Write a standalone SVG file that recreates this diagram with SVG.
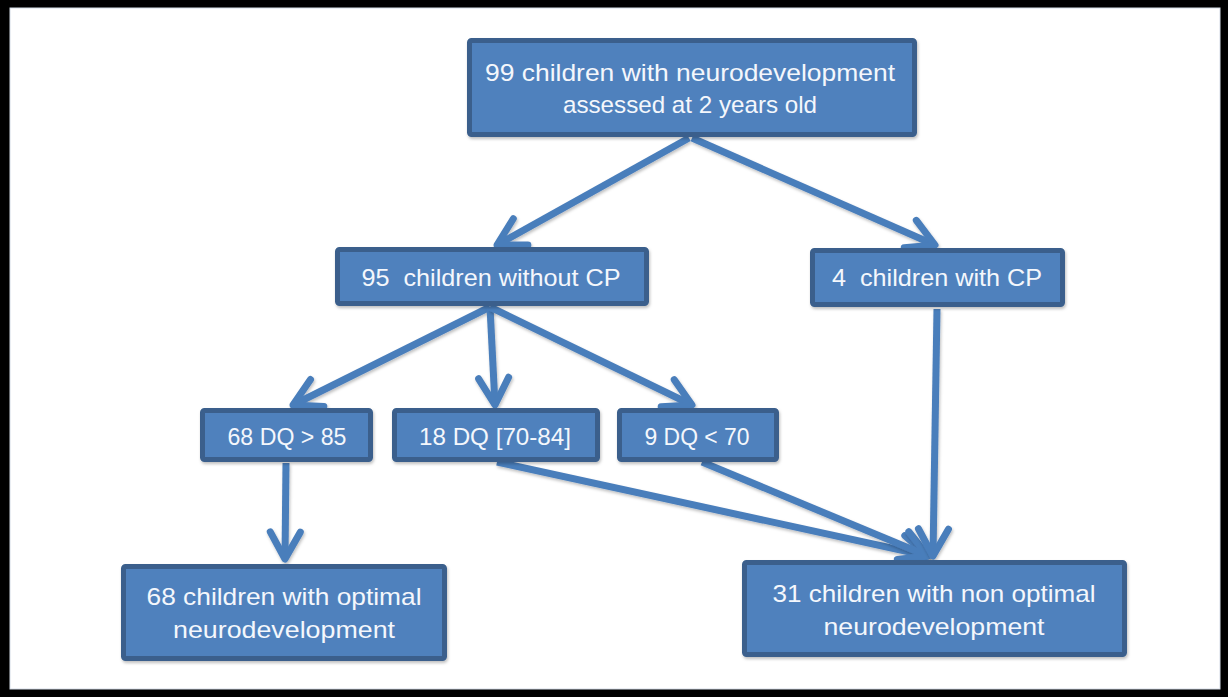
<svg xmlns="http://www.w3.org/2000/svg" width="1228" height="697" viewBox="0 0 1228 697">
<style>
.box{fill:#4F81BD;stroke:#3A5F8C;stroke-width:5;filter:url(#sh)}
.t{font-family:"Liberation Sans",Arial,sans-serif;font-size:24px;fill:#F4F7FC;text-anchor:middle;white-space:pre}
.c{stroke:#4A7EBB;stroke-width:7;fill:none;marker-end:url(#ah);filter:url(#sh)}
</style>
<defs>
<filter id="sh" filterUnits="userSpaceOnUse" x="0" y="0" width="1228" height="697">
<feDropShadow dx="1" dy="2" stdDeviation="1.5" flood-color="#000" flood-opacity="0.25"/>
</filter>
<marker id="ah" markerUnits="userSpaceOnUse" markerWidth="60" markerHeight="60" viewBox="-30 -30 60 60" refX="0" refY="0" orient="auto" overflow="visible">
<path d="M -27,-15 L 0,0 L -27,15" fill="none" stroke="#4A7EBB" stroke-width="7" stroke-linecap="round" stroke-linejoin="round"/>
</marker>
</defs>
<rect x="0" y="0" width="1228" height="697" fill="#000"/>
<rect x="10" y="8" width="1210" height="681" fill="#fff" stroke="#d4dbe6" stroke-width="1"/>
<g id="connectors">
<line class="c" x1="689" y1="138" x2="497" y2="245"/>
<line class="c" x1="692" y1="138" x2="935" y2="245"/>
<line class="c" x1="490" y1="307" x2="293" y2="405"/>
<line class="c" x1="490" y1="307" x2="495" y2="405"/>
<line class="c" x1="490" y1="307" x2="692" y2="405"/>
<line class="c" x1="286" y1="463" x2="285" y2="559"/>
<line class="c" x1="497" y1="462" x2="928" y2="556"/>
<line class="c" x1="702" y1="462" x2="928" y2="556"/>
<line class="c" x1="937" y1="309" x2="933" y2="556"/>
</g>
<g id="n-top">
<rect class="box" x="469.5" y="40.5" width="445" height="94" rx="2"/>
<text class="t" x="690" y="81" textLength="410" lengthAdjust="spacingAndGlyphs">99 children with neurodevelopment</text>
<text class="t" x="690" y="113" textLength="254" lengthAdjust="spacingAndGlyphs">assessed at 2 years old</text>
</g>
<g id="n-nocp">
<rect class="box" x="337.5" y="249.5" width="309" height="54" rx="2"/>
<text class="t" x="491" y="286" textLength="259" lengthAdjust="spacingAndGlyphs" xml:space="preserve">95  children without CP</text>
</g>
<g id="n-cp">
<rect class="box" x="812.5" y="250.5" width="250" height="54" rx="2"/>
<text class="t" x="937" y="286" textLength="210" lengthAdjust="spacingAndGlyphs" xml:space="preserve">4  children with CP</text>
</g>
<g id="n-dq85">
<rect class="box" x="202.5" y="410.5" width="168" height="49" rx="2"/>
<text class="t" x="287" y="445" textLength="119" lengthAdjust="spacingAndGlyphs">68 DQ &gt; 85</text>
</g>
<g id="n-dq7084">
<rect class="box" x="394.5" y="410.5" width="203" height="49" rx="2"/>
<text class="t" x="495" y="445" textLength="152" lengthAdjust="spacingAndGlyphs">18 DQ [70-84]</text>
</g>
<g id="n-dq70">
<rect class="box" x="619.5" y="410.5" width="157" height="49" rx="2"/>
<text class="t" x="697" y="445" textLength="105" lengthAdjust="spacingAndGlyphs">9 DQ &lt; 70</text>
</g>
<g id="n-optimal">
<rect class="box" x="123.5" y="566.5" width="321" height="92" rx="2"/>
<text class="t" x="284" y="605" textLength="275" lengthAdjust="spacingAndGlyphs">68 children with optimal</text>
<text class="t" x="284" y="638" textLength="222" lengthAdjust="spacingAndGlyphs">neurodevelopment</text>
</g>
<g id="n-nonoptimal">
<rect class="box" x="744.5" y="562.5" width="380" height="92" rx="2"/>
<text class="t" x="934" y="602" textLength="323" lengthAdjust="spacingAndGlyphs">31 children with non optimal</text>
<text class="t" x="934" y="635" textLength="221" lengthAdjust="spacingAndGlyphs">neurodevelopment</text>
</g>
</svg>
